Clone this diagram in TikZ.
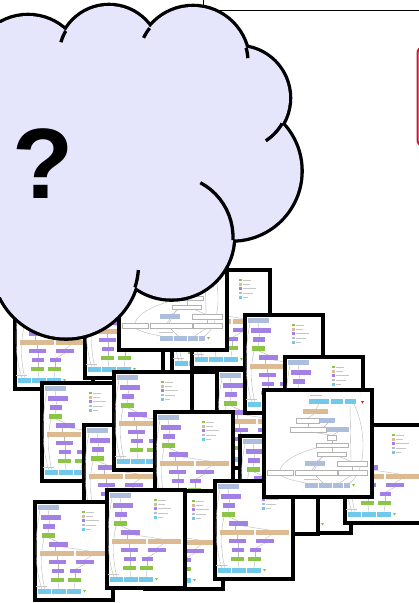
\documentclass[tikz,border=0pt]{standalone}
\usepackage{fontspec}
\setmainfont{Liberation Sans}
\usetikzlibrary{arrows.meta}
\definecolor{cloudfill}{RGB}{229,229,252}
\definecolor{wfpurple}{RGB}{162,128,230}
\definecolor{wfgreen}{RGB}{140,196,72}
\definecolor{wftan}{RGB}{220,186,146}
\definecolor{wfcyan}{RGB}{112,200,234}
\definecolor{wfsteel}{RGB}{172,190,220}
\definecolor{wfred}{RGB}{212,16,60}

\tikzset{
  thumbframe/.style={draw=black, fill=white, line width=3.8pt},
  wire/.style={draw=gray!55, line width=0.4pt},
  legtext/.style={draw=gray!45, line width=0.8pt},
  wfnode/.style={draw=gray!60, fill=white, line width=0.4pt},
  group/.style={draw=gray!40, densely dotted, line width=0.4pt, rounded corners=1.5pt},
  cloudline/.style={draw=black, line width=3.3pt},
  % small workflow thumbnail, outer size 82 x 102
  smallthumb/.pic={
    \draw[thumbframe] (2,2) rectangle (80,100);
    % wires
    \draw[wire] (15,10) -- (16,15);
    \draw[wire] (17,20) -- (16,24);
    \draw[wire] (16,29) -- (15,33);
    \draw[wire] (16,38) -- (25,42);
    \draw[wire] (22,47) -- (22,51);
    \draw[wire] (30,47) -- (56,51);
    \draw[wire] (24,56) -- (24,60);
    \draw[wire] (58,56) -- (52,60);
    \draw[wire] (25,64) -- (25,69);
    \draw[wire] (52,64) -- (43,69);
    \draw[wire] (25,73) -- (25,78);
    \draw[wire] (42,73) -- (42,78);
    \draw[wire] (25,82) -- (26,89);
    \draw[wire] (42,82) -- (41,89);
    \draw[wire] (7,10) .. controls (1,40) and (2,70) .. (9,89);
    \draw[wire] (11,38) .. controls (7,55) and (8,75) .. (12,89);
    % boxes
    \fill[wfsteel] (5,5) rectangle (26,10);
    \fill[wfpurple] (8,15) rectangle (28,20);
    \fill[wfpurple] (10,24) rectangle (22,29);
    \fill[wfgreen] (9,33) rectangle (22,38);
    \fill[wfpurple] (16,42) rectangle (35,47);
    \fill[wftan] (7,51) rectangle (41,56);
    \fill[wftan] (43,51) rectangle (76,56);
    \fill[wfpurple] (16,60) rectangle (33,64);
    \fill[wfpurple] (43,60) rectangle (61,64);
    \fill[wfpurple] (19,69) rectangle (31,73);
    \fill[wfpurple] (37,69) rectangle (48,73);
    \fill[wfgreen] (18,78) rectangle (31,82);
    \fill[wfgreen] (35,78) rectangle (48,82);
    \draw[legtext] (3,86) -- (14,86);
    \fill[wfcyan] (5,89) rectangle (18,94);
    \fill[wfcyan] (19,89) rectangle (33,94);
    \fill[wfcyan] (34,89) rectangle (48,94);
    \fill[wfgreen] (50,90) -- (53,90) -- (51.5,92.5) -- cycle;
    % legend
    \foreach \c/\w [count=\i] in {wfgreen/8,wftan/7,wfpurple/13,wfsteel/10,wfcyan/5} {
      \fill[\c] (49,{6.5+4.3*\i}) rectangle +(2.5,2.5);
      \draw[legtext] (53,{7.8+4.3*\i}) -- +(\w,0);
    }
  },
  % larger workflow thumbnail, outer size 112 x 111
  bigthumb/.pic={
    \draw[thumbframe] (2,2) rectangle (110,109);
    \draw[group] (46,4) rectangle (99,18);
    \draw[legtext] (48,7) -- (60,7);
    \draw[group] (40,88) rectangle (94,103);
    \draw[legtext] (42,91) -- (56,91);
    % wires
    \draw[wire] (57,16) -- (54,21);
    \draw[wire] (52,26) -- (46,30);
    \draw[wire] (46,35) -- (46,39);
    \draw[wire] (66,35) -- (62,39);
    \draw[wire] (50,44) -- (68,47);
    \draw[wire] (76,44) -- (71,47);
    \draw[wire] (70,52) -- (70,55);
    \draw[wire] (70,59) -- (70,64);
    \draw[wire] (88,16) -- (89,73);
    \draw[wire] (92,16) .. controls (104,40) and (106,85) .. (86,96);
    \draw[wire] (62,68) -- (55,73);
    \draw[wire] (76,68) -- (88,73);
    \draw[wire] (58,59) .. controls (30,66) and (20,75) .. (18,82);
    \draw[wire] (60,68) -- (52,82);
    \draw[wire] (53,78) -- (50,82);
    \draw[wire] (90,78) -- (90,82);
    \draw[wire] (18,87) .. controls (25,92) and (40,94) .. (48,96);
    \draw[wire] (53,87) -- (62,96);
    \draw[wire] (90,87) -- (76,96);
    % boxes
    \fill[wfcyan] (47,11) rectangle (67,16);
    \fill[wfcyan] (69,11) rectangle (81,16);
    \fill[wfcyan] (83,11) rectangle (94,16);
    \fill[wfred] (99,13) -- (102,13) -- (100.5,15.5) -- cycle;
    \fill[wftan] (41,21) rectangle (66,26);
    \draw[wfnode] (34,30) rectangle (57,35);
    \fill[wfsteel] (58,30) rectangle (73,35);
    \draw[wfnode] (28,39) rectangle (64,44);
    \fill[wfsteel] (65,39) rectangle (87,44);
    \draw[wfnode] (65,47) rectangle (74,52);
    \draw[wfnode] (54,55) rectangle (86,59);
    \draw[wfnode] (55,64) rectangle (84,68);
    \fill[wfsteel] (43,73) rectangle (63,78);
    \draw[wfnode] (75,73) rectangle (105,78);
    \draw[wfnode] (5,82) rectangle (31,87);
    \draw[wfnode] (33,82) rectangle (75,87);
    \draw[wfnode] (76,82) rectangle (105,87);
    \fill[wfsteel] (43,95) rectangle (56,100);
    \fill[wfsteel] (57,95) rectangle (70,100);
    \fill[wfsteel] (71,95) rectangle (81,100);
    \fill[wfsteel] (82,95) rectangle (88,100);
    \fill[wfgreen] (90,96) -- (93,96) -- (91.5,98.5) -- cycle;
  }
}

\begin{document}
\begin{tikzpicture}[x=1pt, y=-1pt]
  \useasboundingbox (0,0) rectangle (419,603);
  \clip (0,0) rectangle (419,603);

  % window edge and red box behind the cloud
  \draw[line width=1pt] (203,0) -- (203,10.7) -- (419,10.7);
  \draw[wfred, line width=2pt, rounded corners=6pt] (417.5,47) rectangle (445,146);

  % pile of workflow thumbnails, back to front
  \pic at (13,289) {smallthumb};
  \pic at (83,278) {smallthumb};
  \pic at (170,272) {smallthumb};
  \pic at (190,268) {smallthumb};
  \pic at (117,241) {bigthumb};
  \pic at (215,368) {smallthumb};
  \pic at (243,313) {smallthumb};
  \pic at (283,355) {smallthumb};
  \pic at (40,381) {smallthumb};
  \pic at (82,423) {smallthumb};
  \pic at (112,370) {smallthumb};
  \pic at (271,433) {smallthumb};
  \pic at (238,434) {smallthumb};
  \pic at (343,423) {smallthumb};
  \pic at (153,410) {smallthumb};
  \pic at (143,489) {smallthumb};
  \pic at (213,479) {smallthumb};
  \pic at (262,388) {bigthumb};
  \pic at (33,500) {smallthumb};
  \pic at (105,488) {smallthumb};

  % the cloud
  \foreach \cx/\cy/\r in {28/71/55, 109/56/50, 193/62/55, 238/98/51, 232/171/68.5, 171.5/237/61.5, 66/265/72.5}
    \draw[black, line width=6.6pt] (\cx,\cy) circle[radius=\r];
  \fill[cloudfill] (0,23) -- (66,31) -- (150,28) -- (246,48) -- (282,124) -- (233,240) -- (135,287) -- (0,297) -- cycle;
  \foreach \cx/\cy/\r in {28/71/55, 109/56/50, 193/62/55, 238/98/51, 232/171/68.5, 171.5/237/61.5, 66/265/72.5}
    \fill[cloudfill] (\cx,\cy) circle[radius=\r];
  \foreach \cx/\cy/\r/\a/\b in {109/56/50/210/196, 193/62/55/218/206, 193/62/55/-15/-4, 238/98/51/30/57, 171.5/237/61.5/-62/3, 66/265/72.5/18/4}
    \draw[cloudline] plot[domain=\a:\b, samples=12] ({\cx+\r*cos(\x)}, {\cy+\r*sin(\x)});
  \node[font=\fontsize{100}{100}\selectfont\bfseries, inner sep=0pt] (qmark) at (43,164) {?};
\end{tikzpicture}
\end{document}
